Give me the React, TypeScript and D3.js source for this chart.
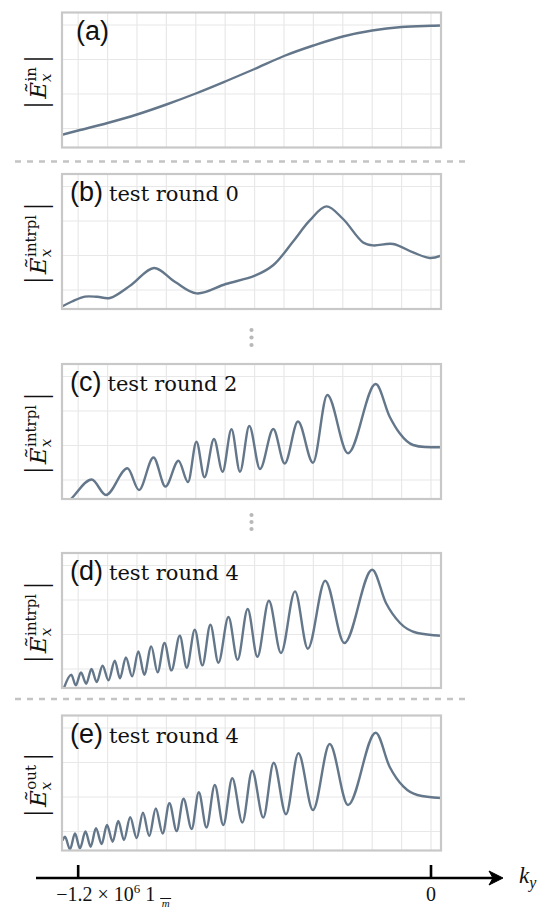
import React from 'react';
import * as d3 from 'd3';

// ---------- data ----------
const panelTags = ['(a)', '(b)', '(c)', '(d)', '(e)'];
const panelTitles = ['', 'test round 0', 'test round 2', 'test round 4', 'test round 4'];
const panelSups = ['in', 'intrpl', 'intrpl', 'intrpl', 'out'];

const kTicks = [-1.2, 0];
const kTickLabels = ['−1.2 × 10', '0'];
const kGrid = [-1.2, -1.1, -1.0, -0.9, -0.8, -0.7, -0.6, -0.5, -0.4, -0.3, -0.2, -0.1, 0];
const ampGrid = [19, 53.5, 88, 122.5];

// k_y in 1e6 1/m, |E| in arbitrary units
const seriesA: [number, number][] = [
  [-1.255, 12.7], [-1.2, 17], [-1.1, 24.5], [-1.0, 33], [-0.9, 43], [-0.8, 54], [-0.7, 66],
  [-0.6, 78.5], [-0.5, 91.5], [-0.4, 102], [-0.3, 111], [-0.2, 117], [-0.1, 120.5], [0, 121.7], [0.034, 122],
];

const seriesB: [number, number][] = [
  [-1.255, 2.5], [-1.221, 7.5], [-1.177, 12.4], [-1.135, 12.2], [-1.092, 11], [-1.02, 24], [-0.942, 41],
  [-0.87, 27], [-0.797, 15.6], [-0.698, 25], [-0.599, 33.3], [-0.536, 44], [-0.469, 67.5], [-0.413, 88.3],
  [-0.356, 102.6], [-0.299, 90], [-0.231, 66.6], [-0.197, 63.6], [-0.129, 65], [-0.061, 56.6],
  [-0.004, 51], [0.034, 53.3],
];

const seriesC: [number, number][] = [
  [-1.25, -8], [-1.2211, 1], [-1.1541, 19.5], [-1.1055, 4], [-1.0323, 30.7], [-0.9932, 9], [-0.9439, 41.5],
  [-0.9031, 12.5], [-0.8588, 38.3], [-0.8265, 17], [-0.7976, 57.3], [-0.7704, 21.7], [-0.7381, 60],
  [-0.7088, 27.3], [-0.6786, 69.7], [-0.6497, 27.3], [-0.618, 73], [-0.5816, 30], [-0.5364, 70],
  [-0.4976, 35.5], [-0.4524, 77.5], [-0.4014, 36.3], [-0.3527, 104], [-0.2823, 45.7], [-0.1881, 115],
  [-0.1405, 82.3], [-0.1065, 65.7], [-0.0612, 54], [-0.0204, 52], [0.034, 51.7],
];

const seriesD: [number, number][] = [
  [-1.255, -6], [-1.2483, 0], [-1.2235, 13.3], [-1.2082, 2.6], [-1.1905, 15.6], [-1.1725, 4.3], [-1.1548, 19],
  [-1.1371, 6], [-1.117, 22.3], [-1.0969, 7.6], [-1.0755, 27.3], [-1.0578, 9.6], [-1.0378, 30.6],
  [-1.0163, 11.6], [-0.9952, 36.6], [-0.9752, 13.3], [-0.9514, 41.6], [-0.9299, 15.6], [-0.9065, 45],
  [-0.8827, 17.6], [-0.8544, 52.3], [-0.8306, 20.3], [-0.8034, 58.3], [-0.7776, 22.6], [-0.7503, 63.3],
  [-0.7231, 25.3], [-0.6888, 71], [-0.6578, 28.3], [-0.6235, 79], [-0.5905, 31.3], [-0.5514, 87.3],
  [-0.5102, 35], [-0.4626, 96.6], [-0.419, 39.3], [-0.3599, 107.3], [-0.2949, 45], [-0.2, 118.3],
  [-0.1531, 85], [-0.1054, 65], [-0.0463, 55], [0.034, 52.3],
];

const seriesE: [number, number][] = [
  [-1.2534, 10], [-1.2449, 13.8], [-1.2279, 1.2], [-1.2109, 17], [-1.1939, 2.2], [-1.1752, 19],
  [-1.1575, 3.8], [-1.1395, 22.2], [-1.1201, 6.5], [-1.1021, 25.5], [-1.0827, 8.8], [-1.0636, 29.5],
  [-1.0442, 10.5], [-1.0231, 33.2], [-1.001, 12.5], [-0.9796, 37.8], [-0.9582, 14.5], [-0.9361, 42],
  [-0.9126, 17], [-0.8898, 47.2], [-0.865, 19.5], [-0.8418, 51.8], [-0.814, 21.5], [-0.7898, 58.2],
  [-0.7636, 23], [-0.7354, 65.5], [-0.7065, 25.5], [-0.6759, 72.2], [-0.6415, 28], [-0.6082, 79.8],
  [-0.5704, 33], [-0.535, 87.8], [-0.4932, 36.3], [-0.451, 97.2], [-0.4014, 40.5], [-0.3446, 106.5],
  [-0.2823, 45.5], [-0.1881, 117.8], [-0.1408, 83.8], [-0.0935, 63.8], [-0.0463, 55.5], [0.034, 52.5],
];

const allSeries = [seriesA, seriesB, seriesC, seriesD, seriesE];

// ---------- layout ----------
const W = 546;
const H = 915;
const frameLeft = 62;
const frameRight = 441;
const panelH = 135;
const panelTops = [12.5, 174, 364, 553, 715.5];
const kDomain: [number, number] = [-1.255, 0.034];
const ampDomain: [number, number] = [0, 135];
const axisY = 878;

const lineColor = '#64778a';
const frameColor = '#c8c8c8';
const gridColor = '#e8e8e8';
const sepColor = '#c4c4c4';

const xScale = d3.scaleLinear().domain(kDomain).range([frameLeft, frameRight]);

function YLabel({ cy, sup }: { cy: number; sup: string }) {
  return (
    <text
      transform={`translate(46, ${cy}) rotate(-90)`}
      textAnchor="middle"
      fontFamily="DejaVu Serif"
      fill="#111"
    >
      <tspan fontSize={32} fontFamily="Liberation Serif">|</tspan>
      <tspan dx={3} fontSize={23} fontStyle="italic">Ẽ</tspan>
      <tspan fontSize={15} fontStyle="italic" dy={5}>x</tspan>
      <tspan fontSize={15} dx={-8} dy={-15}>{sup}</tspan>
      <tspan fontSize={32} fontFamily="Liberation Serif" dx={5} dy={10}>|</tspan>
    </text>
  );
}

function Panel({ idx }: { idx: number }) {
  const top = panelTops[idx];
  const bottom = top + panelH;
  const yScale = d3.scaleLinear().domain(ampDomain).range([bottom, top]);
  const curve = idx < 2 ? d3.curveCatmullRom.alpha(0.5) : d3.curveMonotoneX;
  const line = d3
    .line<[number, number]>()
    .x((d) => xScale(d[0]))
    .y((d) => yScale(d[1]))
    .curve(curve);
  const clipId = `clip-${idx}`;
  const tagX = idx === 0 ? 76 : 70;
  return (
    <g>
      <defs>
        <clipPath id={clipId}>
          <rect x={frameLeft} y={top} width={frameRight - frameLeft} height={panelH} />
        </clipPath>
      </defs>
      <rect x={frameLeft} y={top} width={frameRight - frameLeft} height={panelH} fill="#fff" />
      {kGrid.map((k) => (
        <line key={`gx${k}`} x1={xScale(k)} x2={xScale(k)} y1={top} y2={bottom} stroke={gridColor} strokeWidth={1.2} />
      ))}
      {ampGrid.map((a) => (
        <line key={`gy${a}`} x1={frameLeft} x2={frameRight} y1={yScale(a)} y2={yScale(a)} stroke={gridColor} strokeWidth={1.2} />
      ))}
      <path
        d={line(allSeries[idx]) || ''}
        fill="none"
        stroke={lineColor}
        strokeWidth={2.4}
        strokeLinejoin="round"
        clipPath={`url(#${clipId})`}
      />
      <rect
        x={frameLeft}
        y={top}
        width={frameRight - frameLeft}
        height={panelH}
        fill="none"
        stroke={frameColor}
        strokeWidth={2.2}
      />
      <text x={tagX} y={top + 27} fill="#111">
        <tspan fontFamily="Liberation Sans" fontSize={27}>{panelTags[idx]}</tspan>
        {panelTitles[idx] ? (
          <tspan fontFamily="DejaVu Serif" fontSize={21} dx={6}>{panelTitles[idx]}</tspan>
        ) : null}
      </text>
      <YLabel cy={top + panelH / 2 + 2} sup={panelSups[idx]} />
    </g>
  );
}

export default function App() {
  const x0 = xScale(kTicks[0]);
  const xz = xScale(kTicks[1]);
  const dots1 = [330, 337.5, 345];
  const dots2 = [515, 522, 529];
  const midX = (frameLeft + frameRight) / 2;
  return (
    <svg
      width={W}
      height={H}
      viewBox={`0 0 ${W} ${H}`}
      style={{ position: 'absolute', left: 0, top: 0, display: 'block', background: '#fff' }}
    >
      <rect x={0} y={0} width={W} height={H} fill="#fff" />
      {panelTops.map((_, i) => (
        <Panel key={i} idx={i} />
      ))}
      {/* separators */}
      <line x1={15} x2={466} y1={161.5} y2={161.5} stroke={sepColor} strokeWidth={2.5} strokeDasharray="6 6" />
      <line x1={15} x2={466} y1={699} y2={699} stroke={sepColor} strokeWidth={2.5} strokeDasharray="6 6" />
      {dots1.map((y) => (
        <circle key={`d1${y}`} cx={midX} cy={y} r={2.1} fill="#b8b8b8" />
      ))}
      {dots2.map((y) => (
        <circle key={`d2${y}`} cx={midX} cy={y} r={2.1} fill="#b8b8b8" />
      ))}
      {/* k_y axis */}
      <line x1={36} x2={497} y1={axisY} y2={axisY} stroke="#000" strokeWidth={2.6} />
      <path
        d={`M503,${axisY} L489,${axisY - 7} L493,${axisY} L489,${axisY + 7} Z`}
        fill="#000"
        stroke="#000"
        strokeWidth={1}
        strokeLinejoin="miter"
      />
      {kTicks.map((k) => (
        <line key={`t${k}`} x1={xScale(k)} x2={xScale(k)} y1={axisY - 13} y2={axisY} stroke="#000" strokeWidth={2.6} />
      ))}
      <text x={x0 - 22} y={901} fontFamily="Liberation Serif" fontSize={20} fill="#111">
        {kTickLabels[0]}
        <tspan fontSize={13} dy={-8}>6</tspan>
        <tspan dy={8} dx={5}>1</tspan>
      </text>
      <line x1={x0 + 82} x2={x0 + 93} y1={898.5} y2={898.5} stroke="#111" strokeWidth={1} />
      <text x={x0 + 87.5} y={907} textAnchor="middle" fontFamily="Liberation Serif" fontStyle="italic" fontSize={11} fill="#111">
        m
      </text>
      <text x={xz} y={901} textAnchor="middle" fontFamily="Liberation Serif" fontSize={20} fill="#111">
        {kTickLabels[1]}
      </text>
      <text x={519} y={883} fontFamily="Liberation Serif" fontStyle="italic" fontSize={23} fill="#111">
        k<tspan fontSize={16} dy={5}>y</tspan>
      </text>
    </svg>
  );
}
